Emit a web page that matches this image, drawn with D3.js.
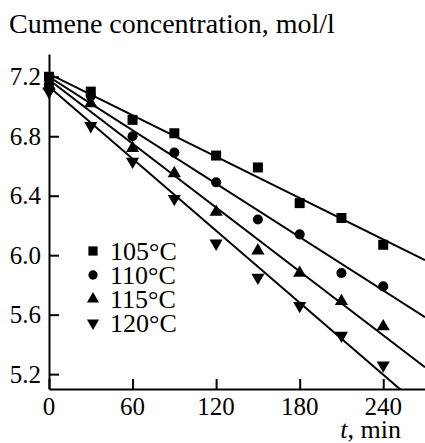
<!DOCTYPE html>
<html>
<head>
<meta charset="utf-8">
<script src="https://d3js.org/d3.v7.min.js"></script>
<style>
  body { margin: 0; background: #fff; }
</style>
</head>
<body>
<div id="my_dataviz"></div>
<script>
// data
var time = [0, 30, 60, 90, 120, 150, 180, 210, 240];
var c105 = [7.20, 7.10, 6.91, 6.82, 6.67, 6.59, 6.35, 6.25, 6.07];
var c110 = [7.15, 7.07, 6.80, 6.69, 6.49, 6.24, 6.14, 5.88, 5.79];
var c115 = [7.14, 7.02, 6.72, 6.55, 6.29, 6.03, 5.88, 5.69, 5.52];
var c120 = [7.10, 6.87, 6.63, 6.38, 6.08, 5.85, 5.66, 5.46, 5.26];
var seriesNames = ["105°C", "110°C", "115°C", "120°C"];
// fitted straight lines: c = intercept - slope * t
var fitIntercept = [7.22, 7.20, 7.18, 7.133];
var fitSlope = [0.00464, 0.00599, 0.00716, 0.00807];
var xTicks = [0, 60, 120, 180, 240];
var yTicks = [5.2, 5.6, 6.0, 6.4, 6.8, 7.2];

var series = [c105, c110, c115, c120];
var symbols = [d3.symbolSquare, d3.symbolCircle, d3.symbolTriangle, d3.symbolTriangle];
var symbolSizes = [100, 80, 75, 75];
var symbolRotate = [0, 0, 0, 180];

var serif = "'Liberation Serif', 'DejaVu Serif', 'Times New Roman', serif";

var width = 425, height = 443;
var svg = d3.select("#my_dataviz")
  .append("svg")
    .attr("width", width)
    .attr("height", height)
    .attr("font-family", serif);

var x = d3.scaleLinear().domain([0, 270]).range([49, 425]);
var y = d3.scaleLinear().domain([5.1, 7.353]).range([389, 54]);

// clip for the fit lines
svg.append("clipPath").attr("id", "plotclip")
  .append("rect")
    .attr("x", x(0)).attr("y", y.range()[1])
    .attr("width", x.range()[1] - x(0))
    .attr("height", y.range()[0] - y.range()[1]);

// axes, ticks pointing inward
svg.append("g")
  .attr("transform", "translate(0," + y(5.1) + ")")
  .call(d3.axisTop(x).tickValues(xTicks).tickSize(10).tickSizeOuter(0).tickFormat(""))
  .selectAll("text").remove();

svg.append("g")
  .attr("transform", "translate(" + x(0) + ",0)")
  .call(d3.axisRight(y).tickValues(yTicks).tickSize(10).tickSizeOuter(0).tickFormat(""))
  .selectAll("text").remove();

svg.selectAll(".domain, .tick line")
  .attr("stroke", "#000")
  .attr("stroke-width", 2);

// tick labels
svg.selectAll(".xlab")
  .data(xTicks).enter()
  .append("text")
    .attr("x", function(d) { return x(d); })
    .attr("y", 415)
    .attr("text-anchor", "middle")
    .attr("font-family", serif)
    .style("font-size", "25px")
    .text(function(d) { return d; });

svg.selectAll(".ylab")
  .data(yTicks).enter()
  .append("text")
    .attr("x", 41)
    .attr("y", function(d) { return y(d); })
    .attr("dy", "0.35em")
    .attr("text-anchor", "end")
    .attr("font-family", serif)
    .style("font-size", "25px")
    .text(function(d) { return d.toFixed(1); });

// axis titles
svg.append("text")
  .attr("x", 9)
  .attr("y", 33)
  .attr("font-family", serif)
  .style("font-size", "28px")
  .text("Cumene concentration, mol/l");

var xt = svg.append("text")
  .attr("x", 401)
  .attr("y", 438)
  .attr("text-anchor", "end")
  .attr("font-family", serif)
  .style("font-size", "26px");
xt.append("tspan").style("font-style", "italic").text("t");
xt.append("tspan").text(", min");

// fitted lines
var line = d3.line()
  .x(function(d) { return x(d[0]); })
  .y(function(d) { return y(d[1]); });

for (i = 0; i < series.length; i++) {
  var tEnd = 270;
  svg.append("path")
    .attr("d", line([[0, fitIntercept[i]], [tEnd, fitIntercept[i] - fitSlope[i] * tEnd]]))
    .attr("fill", "none")
    .attr("stroke", "#000")
    .attr("stroke-width", 2)
    .attr("clip-path", "url(#plotclip)");
}

// data points
for (i = 0; i < series.length; i++) {
  for (d = 0; d < time.length; d++) {
    svg.append("path")
      .attr("d", d3.symbol().type(symbols[i]).size(symbolSizes[i])())
      .attr("transform", "translate(" + x(time[d]) + "," + y(series[i][d]) + ") rotate(" + symbolRotate[i] + ")")
      .attr("fill", "#000");
  }
}

// legend
for (i = 0; i < seriesNames.length; i++) {
  var ly = 251 + i * 24;
  svg.append("path")
    .attr("d", d3.symbol().type(symbols[i]).size(symbolSizes[i] * 0.85)())
    .attr("transform", "translate(93," + ly + ") rotate(" + symbolRotate[i] + ")")
    .attr("fill", "#000");
  svg.append("text")
    .attr("x", 110)
    .attr("y", ly)
    .attr("dy", "0.35em")
    .attr("font-family", serif)
    .style("font-size", "26px")
    .text(seriesNames[i]);
}
</script>
</body>
</html>
